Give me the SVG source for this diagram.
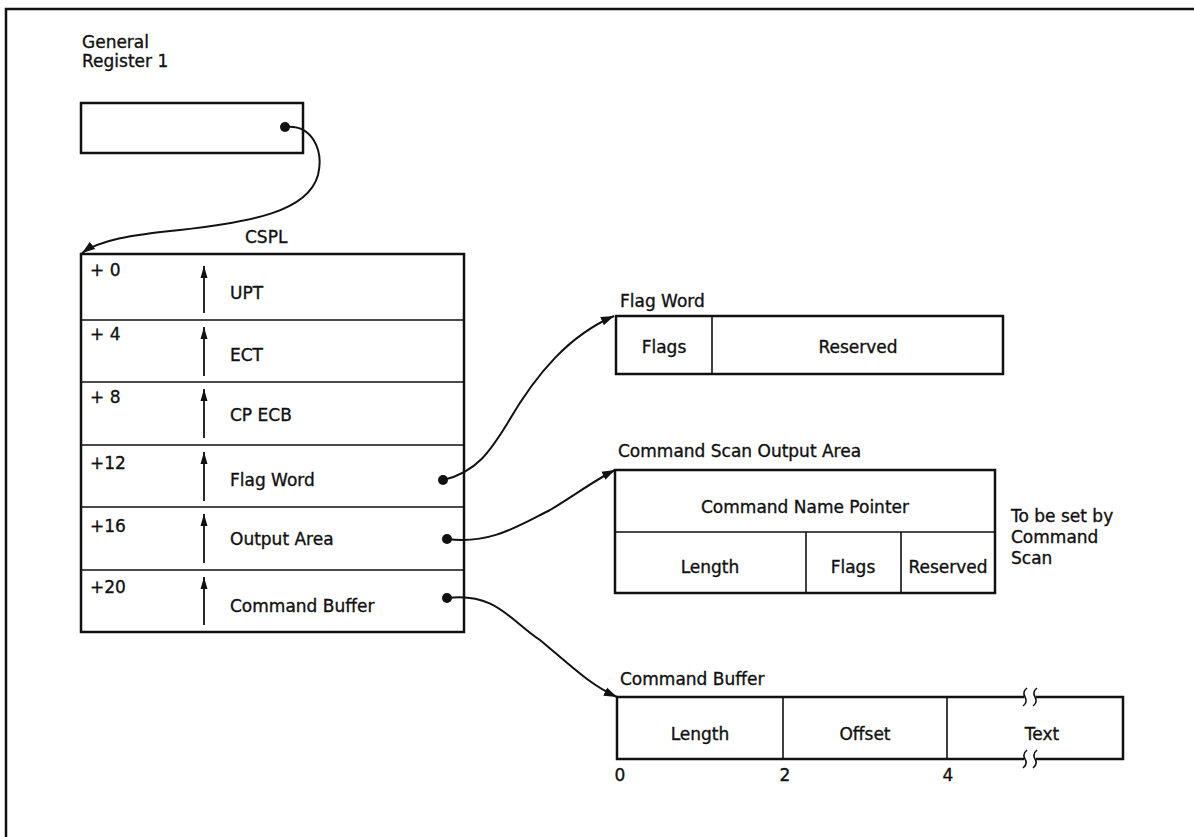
<svg xmlns="http://www.w3.org/2000/svg" width="1194" height="837" viewBox="0 0 1194 837">
<defs>
<style>
text{font-family:"DejaVu Sans","Liberation Sans",sans-serif;font-size:17px;fill:#111;stroke:#111;stroke-width:0.35}
.c{text-anchor:middle}
.box{fill:none;stroke:#111;stroke-width:2.5}
.div{fill:none;stroke:#111;stroke-width:1.6}
.con{fill:none;stroke:#111;stroke-width:2}
.up{stroke:#111;stroke-width:1.8;marker-end:url(#ua)}
.dot{fill:#111}
</style>
<marker id="ah" markerUnits="userSpaceOnUse" markerWidth="14" markerHeight="10" refX="13" refY="5" orient="auto"><path d="M0,0.5 L13,5 L0,9.5 z" fill="#111"/></marker>
<marker id="ua" markerUnits="userSpaceOnUse" markerWidth="13" markerHeight="8" refX="12" refY="4" orient="auto"><path d="M0,0.5 L12,4 L0,7.5 z" fill="#111"/></marker>
</defs>
<rect width="1194" height="837" fill="#fff"/>
<g id="frame"><path d="M6,837 V9 H1194" fill="none" stroke="#111" stroke-width="2.5"/></g>

<g id="general-register">
<text x="82" y="48">General</text>
<text x="82" y="67">Register 1</text>
<rect class="box" x="81" y="103" width="222" height="50"/>
</g>

<g id="cspl">
<text x="245" y="243">CSPL</text>
<rect class="box" x="81" y="254" width="383" height="378"/>
<path class="div" d="M81,320 H464 M81,382 H464 M81,445 H464 M81,507 H464 M81,570 H464"/>
<text x="90" y="276">+ 0</text><line class="up" x1="204" y1="313" x2="204" y2="266"/><text x="230" y="299">UPT</text>
<text x="90" y="340">+ 4</text><line class="up" x1="204" y1="376" x2="204" y2="327"/><text x="230" y="361">ECT</text>
<text x="90" y="403">+ 8</text><line class="up" x1="204" y1="438" x2="204" y2="389"/><text x="230" y="421">CP ECB</text>
<text x="90" y="469">+12</text><line class="up" x1="204" y1="501" x2="204" y2="452"/><text x="230" y="486">Flag Word</text>
<text x="90" y="532">+16</text><line class="up" x1="204" y1="563" x2="204" y2="514"/><text x="230" y="545">Output Area</text>
<text x="90" y="593">+20</text><line class="up" x1="204" y1="625" x2="204" y2="577"/><text x="230" y="612">Command Buffer</text>
</g>

<g id="flag-word">
<text x="620" y="307">Flag Word</text>
<rect class="box" x="616" y="316" width="387" height="58"/>
<path class="div" d="M712,316 V374"/>
<text class="c" x="664" y="353">Flags</text>
<text class="c" x="858" y="353">Reserved</text>
</g>

<g id="command-scan-output-area">
<text x="618" y="457">Command Scan Output Area</text>
<rect class="box" x="615" y="470" width="380" height="123"/>
<path class="div" d="M615,532 H995 M806,532 V593 M901,532 V593"/>
<text class="c" x="805" y="513">Command Name Pointer</text>
<text class="c" x="710" y="573">Length</text>
<text class="c" x="853" y="573">Flags</text>
<text class="c" x="948" y="573">Reserved</text>
<text x="1011" y="522">To be set by</text>
<text x="1011" y="543">Command</text>
<text x="1011" y="564">Scan</text>
</g>

<g id="command-buffer">
<text x="620" y="685">Command Buffer</text>
<path class="box" d="M1024,697 H617 V759 H1024 M1036,697 H1123 V759 H1036"/>
<path class="div" d="M783,697 V759 M947,697 V759"/>
<path class="div" d="M1027,688 q-5,4 -2,9 q3,5 -2,9 M1037,688 q-5,4 -2,9 q3,5 -2,9"/>
<path class="div" d="M1027,750 q-5,4 -2,9 q3,5 -2,9 M1037,750 q-5,4 -2,9 q3,5 -2,9"/>
<text class="c" x="700" y="740">Length</text>
<text class="c" x="865" y="740">Offset</text>
<text class="c" x="1042" y="740">Text</text>
<text class="c" x="620" y="781">0</text>
<text class="c" x="785" y="781">2</text>
<text class="c" x="948" y="781">4</text>
</g>

<g id="connectors">
<circle class="dot" cx="285" cy="127" r="5"/>
<path class="con" marker-end="url(#ah)" d="M285,127 C312,124 324,150 318,175 C308,212 250,222 180,230 C130,235 100,240 82,253"/>
<circle class="dot" cx="443" cy="480" r="5"/>
<path class="con" marker-end="url(#ah)" d="M443,480 C478,472 492,448 507,424 C537,372 570,335 614,316"/>
<circle class="dot" cx="447" cy="539" r="5"/>
<path class="con" marker-end="url(#ah)" d="M447,539 C490,545 520,525 550,510 C575,495 595,480 615,470"/>
<circle class="dot" cx="447" cy="598" r="5"/>
<path class="con" marker-end="url(#ah)" d="M447,598 C495,592 510,620 540,640 C570,665 590,685 617,697"/>
</g>
</svg>
